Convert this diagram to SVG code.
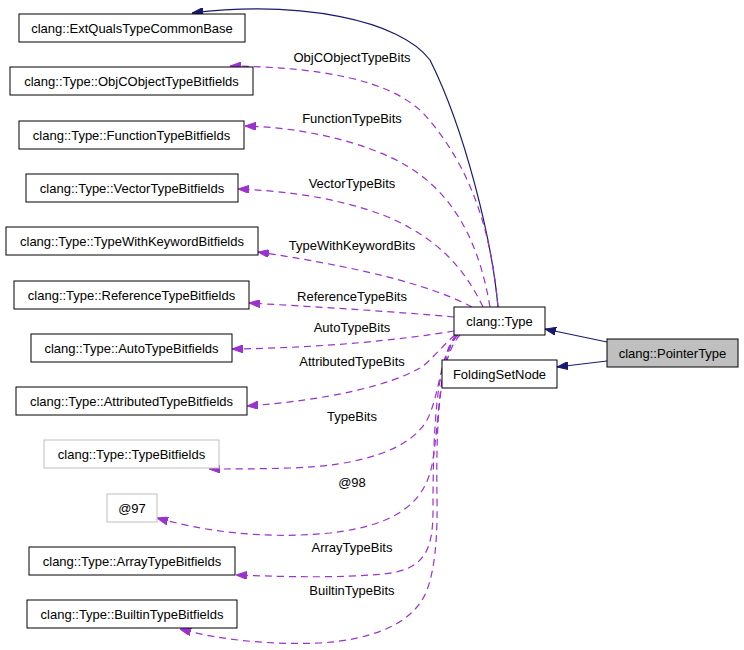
<svg xmlns="http://www.w3.org/2000/svg" width="744" height="650" viewBox="0 0 744 650">
<defs>
<style>
.n{fill:#fff;stroke:#000;stroke-width:1}
.g{fill:#fff;stroke:#bfbfbf;stroke-width:1}
.p{fill:#bfbfbf;stroke:#000;stroke-width:1}
text{font-family:"Liberation Sans",Arial,sans-serif;font-size:13px;fill:#000;text-anchor:middle}
.inh{fill:none;stroke:#191970;stroke-width:1.2}
.col{fill:none;stroke:#9a32cd;stroke-width:1.2;stroke-dasharray:7,5}
</style>
<marker id="an" markerUnits="userSpaceOnUse" markerWidth="11" markerHeight="8" refX="11" refY="4" orient="auto"><path d="M0,0 L11,4 L0,8 z" fill="#191970" stroke="#191970"/></marker>
<marker id="ap" markerUnits="userSpaceOnUse" markerWidth="11" markerHeight="8" refX="11" refY="4" orient="auto"><path d="M0,0 L11,4 L0,8 z" fill="#9a32cd" stroke="#9a32cd"/></marker>
</defs>
<rect width="744" height="650" fill="#fff"/>
<g id="edges">
<path class="inh" d="M498,307 C492,240 465,130 430,60 C400,20 300,0 192,13" marker-end="url(#an)"/>
<path class="inh" d="M607,342 L545,329" marker-end="url(#an)"/>
<path class="inh" d="M607,361 L557,367" marker-end="url(#an)"/>
<path class="col" d="M498,307 C492,240 475,170 423,113 C390,80 320,67 230,66" marker-end="url(#ap)"/>
<text x="352" y="62">ObjCObjectTypeBits</text>
<path class="col" d="M490,307 C482,260 465,210 423,177 C390,150 320,128 245,126" marker-end="url(#ap)"/>
<text x="352" y="123">FunctionTypeBits</text>
<path class="col" d="M483,307 C470,280 450,250 410,228 C380,210 320,192 238,189" marker-end="url(#ap)"/>
<text x="352" y="188">VectorTypeBits</text>
<path class="col" d="M472,307 C440,290 380,270 258,252" marker-end="url(#ap)"/>
<text x="352" y="250">TypeWithKeywordBits</text>
<path class="col" d="M454,317 C400,312 320,307 249,303" marker-end="url(#ap)"/>
<text x="352" y="301">ReferenceTypeBits</text>
<path class="col" d="M454,331 C400,340 320,348 232,349" marker-end="url(#ap)"/>
<text x="352" y="332">AutoTypeBits</text>
<path class="col" d="M455,335 C440,348 430,362 420,368 C390,385 330,400 247,406" marker-end="url(#ap)"/>
<text x="352" y="366">AttributedTypeBits</text>
<path class="col" d="M456,335 C440,355 440,395 427,420 C410,450 360,466 290,468 C260,469 230,469 209,469" marker-end="url(#ap)"/>
<text x="352" y="421">TypeBits</text>
<path class="col" d="M457,335 C438,360 440,420 432,465 C425,500 400,525 330,533 C260,540 200,530 157,518" marker-end="url(#ap)"/>
<text x="352" y="487">@98</text>
<path class="col" d="M458,335 C436,356 433,430 433,510 C433,550 425,570 383,574 C340,578 290,577 236,575" marker-end="url(#ap)"/>
<text x="352" y="552">ArrayTypeBits</text>
<path class="col" d="M460,335 C438,358 436,430 437,500 C438,560 430,590 420,603 C405,625 370,640 320,643 C270,645 220,640 180,629" marker-end="url(#ap)"/>
<text x="352" y="595">BuiltinTypeBits</text>
</g>
<g id="n_ext"><rect class="n" x="19" y="14" width="226" height="28"/><text x="132" y="32.5">clang::ExtQualsTypeCommonBase</text></g>
<g id="n_objc"><rect class="n" x="10" y="67" width="243" height="28"/><text x="131.5" y="85.5">clang::Type::ObjCObjectTypeBitfields</text></g>
<g id="n_func"><rect class="n" x="19" y="121" width="225" height="28"/><text x="131.5" y="139.5">clang::Type::FunctionTypeBitfields</text></g>
<g id="n_vec"><rect class="n" x="26" y="174" width="212" height="28"/><text x="132" y="192.5">clang::Type::VectorTypeBitfields</text></g>
<g id="n_kw"><rect class="n" x="6" y="227" width="252" height="28"/><text x="132" y="245.5">clang::Type::TypeWithKeywordBitfields</text></g>
<g id="n_ref"><rect class="n" x="14" y="281" width="235" height="28"/><text x="131.5" y="299.5">clang::Type::ReferenceTypeBitfields</text></g>
<g id="n_auto"><rect class="n" x="31" y="334" width="201" height="28"/><text x="131.5" y="352.5">clang::Type::AutoTypeBitfields</text></g>
<g id="n_attr"><rect class="n" x="16" y="387" width="231" height="28"/><text x="131.5" y="405.5">clang::Type::AttributedTypeBitfields</text></g>
<g id="n_tb"><rect class="g" x="44" y="440" width="175" height="28"/><text x="131.5" y="458.5">clang::Type::TypeBitfields</text></g>
<g id="n_97"><rect class="g" x="107" y="494" width="50" height="28"/><text x="132" y="512.5">@97</text></g>
<g id="n_arr"><rect class="n" x="29" y="547" width="206" height="28"/><text x="132" y="565.5">clang::Type::ArrayTypeBitfields</text></g>
<g id="n_bi"><rect class="n" x="27" y="600" width="210" height="28"/><text x="132" y="618.5">clang::Type::BuiltinTypeBitfields</text></g>
<g id="n_type"><rect class="n" x="454" y="307" width="91" height="28"/><text x="499.5" y="325.5">clang::Type</text></g>
<g id="n_fsn"><rect class="n" x="442" y="360" width="115" height="28"/><text x="499.5" y="378.5">FoldingSetNode</text></g>
<g id="n_ptr"><rect class="p" x="607" y="339" width="131" height="28"/><text x="672.5" y="357.5">clang::PointerType</text></g>
</svg>
